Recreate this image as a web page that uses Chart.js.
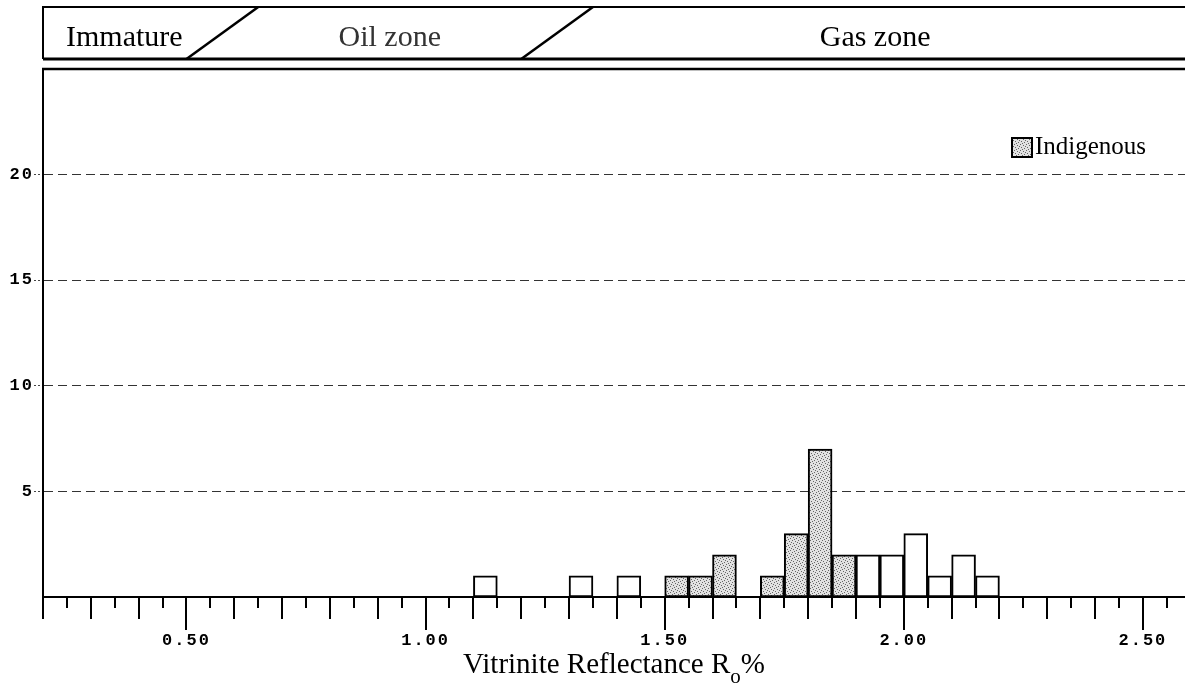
<!DOCTYPE html>
<html>
<head>
<meta charset="utf-8">
<script src="https://cdn.jsdelivr.net/npm/chart.js@4.4.1/dist/chart.umd.min.js"></script>
<style>
    html, body { margin: 0; padding: 0; background: #fff; }
    #wrap { width: 1185px; height: 684px; position: relative; }
</style>
</head>
<body>
<div id="wrap"><canvas id="Chart-1"></canvas></div>
<script>
const binWidth = 0.05;
const indigenousBins = [1.50, 1.55, 1.60, 1.70, 1.75, 1.80, 1.85];
const indigenousCounts = [1, 1, 2, 1, 3, 7, 2];
const otherBins = [1.10, 1.30, 1.40, 1.90, 1.95, 2.00, 2.05, 2.10, 2.15];
const otherCounts = [1, 1, 1, 2, 2, 3, 1, 2, 1];

const xTicks = [0.20, 0.25, 0.30, 0.35, 0.40, 0.45, 0.50, 0.55, 0.60, 0.65, 0.70, 0.75,
    0.80, 0.85, 0.90, 0.95, 1.00, 1.05, 1.10, 1.15, 1.20, 1.25, 1.30, 1.35, 1.40, 1.45,
    1.50, 1.55, 1.60, 1.65, 1.70, 1.75, 1.80, 1.85, 1.90, 1.95, 2.00, 2.05, 2.10, 2.15,
    2.20, 2.25, 2.30, 2.35, 2.40, 2.45, 2.50, 2.55];
const xTickLabels = ['0.50', '1.00', '1.50', '2.00', '2.50'];
const yTicks = [5, 10, 15, 20];

const zoneNames = ['Immature', 'Oil zone', 'Gas zone'];
const zoneCenters = [0.37, 0.925, 1.94];
const zoneEdges = [[0.50, 0.65], [1.20, 1.35]];

const canvas = document.getElementById('Chart-1');

// light stipple like the scanned shading
function stipple() {
    const c = document.createElement('canvas');
    c.width = 6;
    c.height = 6;
    const g = c.getContext('2d');
    g.fillStyle = '#e2e2e2';
    g.fillRect(0, 0, 6, 6);
    g.fillStyle = '#666';
    [[0, 0], [3, 1], [1, 3], [4, 4], [5, 2], [2, 5]].forEach(p => g.fillRect(p[0], p[1], 1, 1));
    return canvas.getContext('2d').createPattern(c, 'repeat');
}
const shade = stipple();

const monoFont = { family: '"Liberation Mono", "DejaVu Sans Mono", monospace', size: 17, weight: 'bold' };
const serif = '"Liberation Serif", "DejaVu Serif", serif';

const decor = {
    id: 'decor',
    beforeDraw(chart) {
        chart.ctx.letterSpacing = '2px';
    },
    afterDraw(chart) {
        const ctx = chart.ctx;
        const x = chart.scales.x;
        const area = chart.chartArea;
        ctx.save();
        ctx.letterSpacing = '0px';
        ctx.strokeStyle = '#000';
        ctx.fillStyle = '#000';

        // x tick marks of three lengths
        ctx.lineWidth = 2;
        x.ticks.forEach(t => {
            const n = Math.round(t.value * 100);
            const len = n % 50 === 0 ? 33 : (n % 10 === 0 ? 22 : 11);
            const px = Math.round(x.getPixelForValue(t.value));
            ctx.beginPath();
            ctx.moveTo(px, area.bottom);
            ctx.lineTo(px, area.bottom + len);
            ctx.stroke();
        });

        // top frame line of the plot
        ctx.lineWidth = 2.5;
        ctx.beginPath();
        ctx.moveTo(area.left - 1, area.top);
        ctx.lineTo(area.right + 5, area.top);
        ctx.stroke();

        // zone band
        const top = 7, bot = 59;
        ctx.lineWidth = 2;
        ctx.beginPath();
        ctx.moveTo(area.right + 5, top);
        ctx.lineTo(area.left, top);
        ctx.lineTo(area.left, bot);
        ctx.stroke();
        ctx.lineWidth = 3;
        ctx.beginPath();
        ctx.moveTo(area.left, bot);
        ctx.lineTo(area.right + 5, bot);
        ctx.stroke();
        ctx.lineWidth = 2.5;
        zoneEdges.forEach(e => {
            ctx.beginPath();
            ctx.moveTo(x.getPixelForValue(e[0]), bot);
            ctx.lineTo(x.getPixelForValue(e[1]), top);
            ctx.stroke();
        });
        ctx.font = '30px ' + serif;
        ctx.textAlign = 'center';
        ctx.textBaseline = 'alphabetic';
        zoneNames.forEach((name, i) => {
            ctx.fillStyle = i === 1 ? '#333' : '#000';
            ctx.fillText(name, x.getPixelForValue(zoneCenters[i]), 46);
        });

        // legend
        ctx.fillStyle = shade;
        ctx.fillRect(1012, 138, 20, 19);
        ctx.lineWidth = 2;
        ctx.strokeRect(1012, 138, 20, 19);
        ctx.fillStyle = '#000';
        ctx.textAlign = 'left';
        ctx.font = '25px ' + serif;
        ctx.fillText(chart.data.datasets[0].label, 1035, 154);

        // x axis title with subscript
        const main = 'Vitrinite Reflectance R', sub = 'o', pct = '%';
        ctx.font = '29px ' + serif;
        const w1 = ctx.measureText(main).width, w3 = ctx.measureText(pct).width;
        ctx.font = '21px ' + serif;
        const w2 = ctx.measureText(sub).width;
        let sx = (area.left + area.right) / 2 - (w1 + w2 + w3) / 2;
        ctx.font = '29px ' + serif;
        ctx.fillText(main, sx, 673);
        ctx.font = '21px ' + serif;
        ctx.fillText(sub, sx + w1, 683);
        ctx.font = '29px ' + serif;
        ctx.fillText(pct, sx + w1 + w2, 673);
        ctx.restore();
    }
};

new Chart(canvas, {
    type: 'bar',
    data: {
        datasets: [{
            label: 'Indigenous',
            data: indigenousBins.map((b, i) => ({ x: b + binWidth / 2, y: indigenousCounts[i] })),
            backgroundColor: shade,
            borderColor: '#000',
            borderWidth: 2,
            borderSkipped: false,
            grouped: false,
            barPercentage: 1,
            categoryPercentage: 1
        }, {
            label: 'Other',
            data: otherBins.map((b, i) => ({ x: b + binWidth / 2, y: otherCounts[i] })),
            backgroundColor: '#fff',
            borderColor: '#000',
            borderWidth: 2,
            borderSkipped: false,
            grouped: false,
            barPercentage: 1,
            categoryPercentage: 1
        }]
    },
    options: {
        responsive: true,
        maintainAspectRatio: false,
        animation: false,
        layout: {
            padding: { top: 69, left: 0, right: 0, bottom: 0 }
        },
        plugins: {
            legend: { display: false },
            tooltip: { enabled: false }
        },
        scales: {
            x: {
                type: 'linear',
                min: 0.2,
                max: 2.588,
                offset: false,
                afterFit(s) {
                    s.height = 87;
                    s.paddingLeft = 0;
                    s.paddingRight = 0;
                },
                afterBuildTicks(s) { s.ticks = xTicks.map(v => ({ value: v })); },
                grid: { display: false, offset: false },
                border: { display: true, color: '#000', width: 2 },
                ticks: {
                    autoSkip: false,
                    maxRotation: 0,
                    padding: 26,
                    color: '#000',
                    font: monoFont,
                    callback(v) {
                        const s = Number(v).toFixed(2);
                        return xTickLabels.includes(s) ? s : '';
                    }
                }
            },
            y: {
                min: 0,
                max: 25,
                afterFit(s) {
                    s.width = 43;
                    s.paddingTop = 0;
                    s.paddingBottom = 0;
                },
                afterBuildTicks(s) { s.ticks = yTicks.map(v => ({ value: v })); },
                grid: {
                    color: '#333',
                    lineWidth: 1,
                    drawTicks: true,
                    tickLength: 9,
                    tickColor: '#444',
                    tickBorderDash: [2, 2]
                },
                border: { display: true, color: '#000', width: 2, dash: [9, 5] },
                ticks: { padding: 0, color: '#000', font: monoFont }
            }
        }
    },
    plugins: [decor]
});
</script>
</body>
</html>
